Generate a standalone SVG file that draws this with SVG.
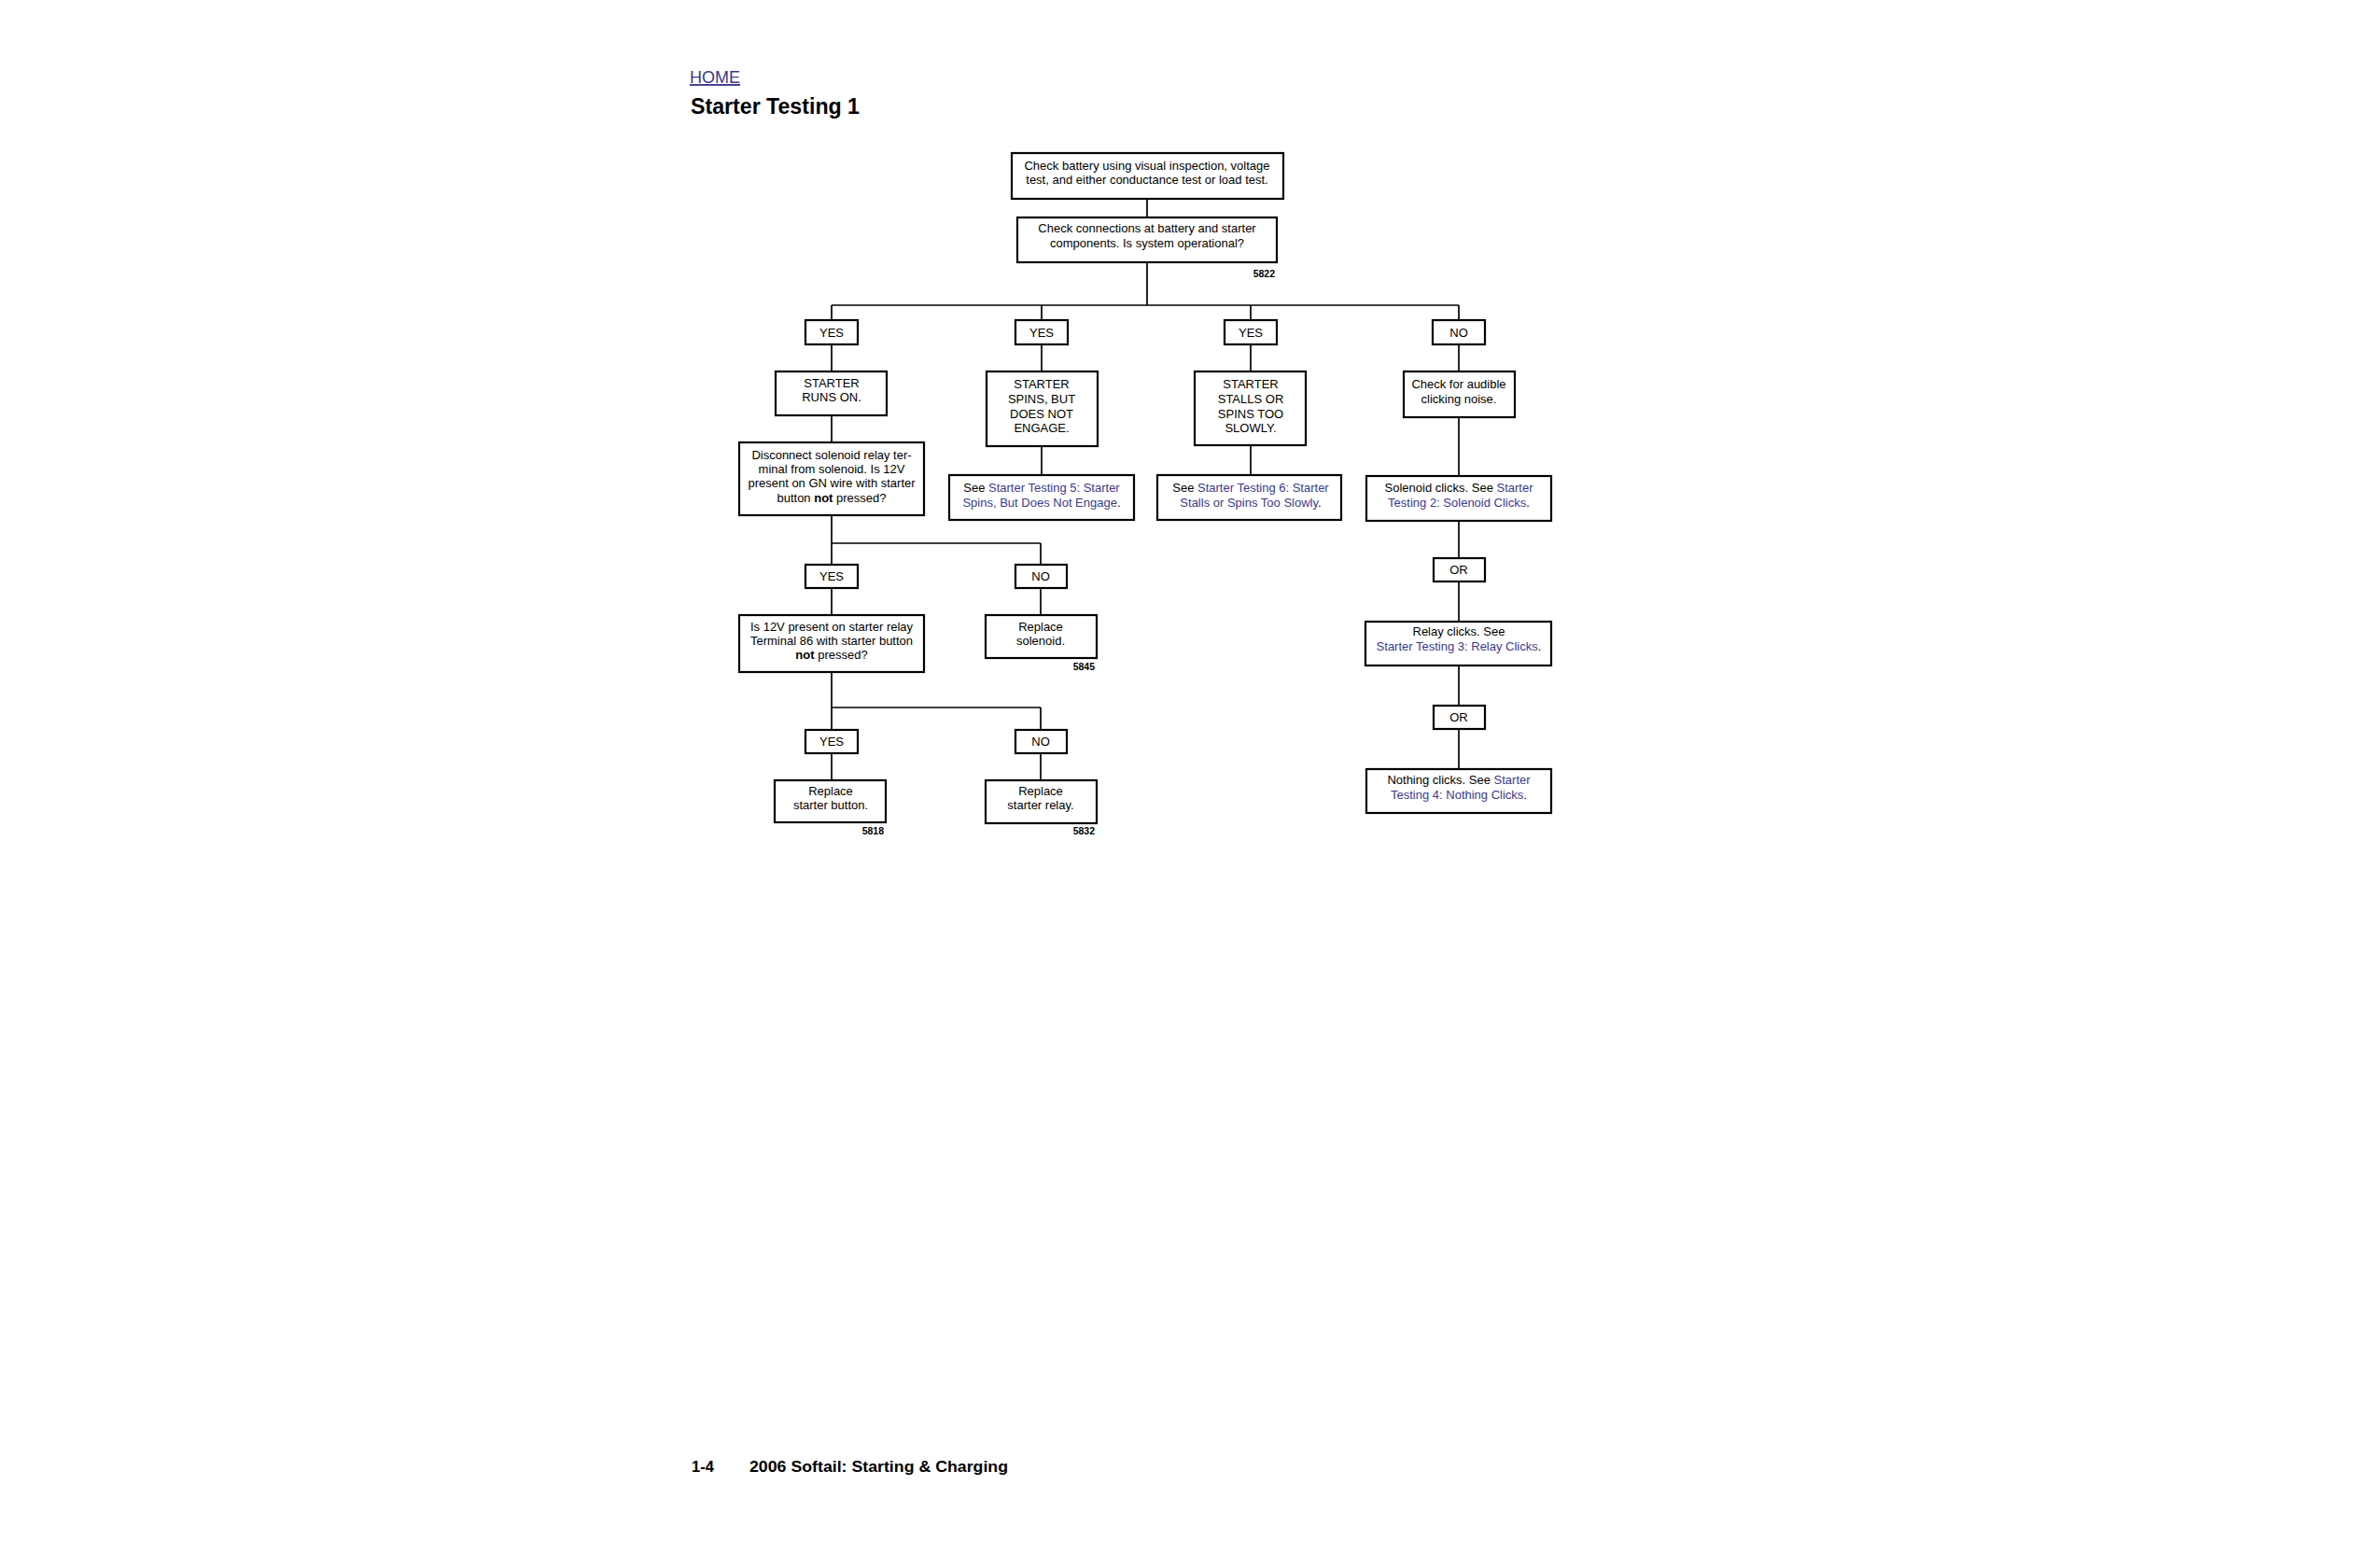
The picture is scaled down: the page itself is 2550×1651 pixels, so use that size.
<svg xmlns="http://www.w3.org/2000/svg" width="2550" height="1651" viewBox="0 0 2550 1651">
<style>
text{font-family:"Liberation Sans",Arial,sans-serif;fill:#000}
.b rect{fill:#fff;stroke:#000;stroke-width:2.2}
.t{font-size:13px;text-anchor:middle}
.l{fill:#3b3a8f}
.n{font-size:10.5px;font-weight:bold;text-anchor:end}
#c line{stroke:#000;stroke-width:1.7}
</style>
<rect width="2550" height="1651" fill="#fff"/>
<text x="739" y="89" font-size="19" class="l" text-decoration="underline" textLength="54" lengthAdjust="spacingAndGlyphs">HOME</text>
<text x="740" y="122" font-size="23" font-weight="bold" textLength="181" lengthAdjust="spacingAndGlyphs">Starter Testing 1</text>
<g id="c">
<line x1="1229" y1="213" x2="1229" y2="233"/>
<line x1="1229" y1="281" x2="1229" y2="327"/>
<line x1="891" y1="327" x2="1563" y2="327"/>
<line x1="891" y1="327" x2="891" y2="343"/><line x1="1116" y1="327" x2="1116" y2="343"/><line x1="1340" y1="327" x2="1340" y2="343"/><line x1="1563" y1="327" x2="1563" y2="343"/>
<line x1="891" y1="369" x2="891" y2="398"/><line x1="1116" y1="369" x2="1116" y2="398"/><line x1="1340" y1="369" x2="1340" y2="398"/><line x1="1563" y1="369" x2="1563" y2="398"/>
<line x1="891" y1="445" x2="891" y2="474"/><line x1="1116" y1="478" x2="1116" y2="509"/><line x1="1340" y1="477" x2="1340" y2="509"/><line x1="1563" y1="447" x2="1563" y2="510"/>
<line x1="1563" y1="558" x2="1563" y2="598"/><line x1="1563" y1="623" x2="1563" y2="666"/><line x1="1563" y1="713" x2="1563" y2="756"/><line x1="1563" y1="781" x2="1563" y2="824"/>
<line x1="891" y1="552" x2="891" y2="605"/><line x1="891" y1="582" x2="1115" y2="582"/><line x1="1115" y1="582" x2="1115" y2="605"/>
<line x1="891" y1="630" x2="891" y2="659"/><line x1="1115" y1="630" x2="1115" y2="659"/>
<line x1="891" y1="720" x2="891" y2="782"/><line x1="891" y1="758" x2="1115" y2="758"/><line x1="1115" y1="758" x2="1115" y2="782"/>
<line x1="891" y1="807" x2="891" y2="836"/><line x1="1115" y1="807" x2="1115" y2="836"/>
</g>
<g id="n1" class="b"><rect x="1084" y="164" width="291" height="49"/><text class="t" x="1229" y="182">Check battery using visual inspection, voltage</text><text class="t" x="1229" y="197">test, and either conductance test or load test.</text></g>
<g id="n2" class="b"><rect x="1090" y="233" width="278" height="48"/><text class="t" x="1229" y="249">Check connections at battery and starter</text><text class="t" x="1229" y="265">components. Is system operational?</text><text class="n" x="1366" y="297">5822</text></g>
<g id="y1" class="b"><rect x="863" y="343" width="56" height="26"/><text class="t" x="891" y="361">YES</text></g>
<g id="y2" class="b"><rect x="1088" y="343" width="56" height="26"/><text class="t" x="1116" y="361">YES</text></g>
<g id="y3" class="b"><rect x="1312" y="343" width="56" height="26"/><text class="t" x="1340" y="361">YES</text></g>
<g id="no1" class="b"><rect x="1535" y="343" width="56" height="26"/><text class="t" x="1563" y="361">NO</text></g>
<g id="runs" class="b"><rect x="831" y="398" width="119" height="47"/><text class="t" x="891" y="415">STARTER</text><text class="t" x="891" y="430">RUNS ON.</text></g>
<g id="spins" class="b"><rect x="1057" y="398" width="119" height="80"/><text class="t" x="1116" y="416">STARTER</text><text class="t" x="1116" y="432">SPINS, BUT</text><text class="t" x="1116" y="448">DOES NOT</text><text class="t" x="1116" y="463">ENGAGE.</text></g>
<g id="stalls" class="b"><rect x="1280" y="398" width="119" height="79"/><text class="t" x="1340" y="416">STARTER</text><text class="t" x="1340" y="432">STALLS OR</text><text class="t" x="1340" y="448">SPINS TOO</text><text class="t" x="1340" y="463">SLOWLY.</text></g>
<g id="aud" class="b"><rect x="1504" y="398" width="119" height="49"/><text class="t" x="1563" y="416">Check for audible</text><text class="t" x="1563" y="432">clicking noise.</text></g>
<g id="see5" class="b"><rect x="1017" y="509" width="198" height="48"/><text class="t" x="1116" y="527">See <tspan class="l">Starter Testing 5: Starter</tspan></text><text class="t" x="1116" y="543"><tspan class="l">Spins, But Does Not Engage</tspan>.</text></g>
<g id="see6" class="b"><rect x="1240" y="509" width="197" height="48"/><text class="t" x="1340" y="527">See <tspan class="l">Starter Testing 6: Starter</tspan></text><text class="t" x="1340" y="543"><tspan class="l">Stalls or Spins Too Slowly</tspan>.</text></g>
<g id="sol" class="b"><rect x="1464" y="510" width="198" height="48"/><text class="t" x="1563" y="527">Solenoid clicks. See <tspan class="l">Starter</tspan></text><text class="t" x="1563" y="543"><tspan class="l">Testing 2: Solenoid Clicks</tspan>.</text></g>
<g id="or1" class="b"><rect x="1536" y="598" width="55" height="25"/><text class="t" x="1563" y="615">OR</text></g>
<g id="relay" class="b"><rect x="1463" y="666" width="199" height="47"/><text class="t" x="1563" y="681">Relay clicks. See</text><text class="t" x="1563" y="697"><tspan class="l">Starter Testing 3: Relay Clicks</tspan>.</text></g>
<g id="or2" class="b"><rect x="1536" y="756" width="55" height="25"/><text class="t" x="1563" y="773">OR</text></g>
<g id="nothing" class="b"><rect x="1464" y="824" width="198" height="47"/><text class="t" x="1563" y="840">Nothing clicks. See <tspan class="l">Starter</tspan></text><text class="t" x="1563" y="856"><tspan class="l">Testing 4: Nothing Clicks</tspan>.</text></g>
<g id="disc" class="b"><rect x="792" y="474" width="198" height="78"/><text class="t" x="891" y="492">Disconnect solenoid relay ter-</text><text class="t" x="891" y="507">minal from solenoid. Is 12V</text><text class="t" x="891" y="522">present on GN wire with starter</text><text class="t" x="891" y="538">button <tspan font-weight="bold">not</tspan> pressed?</text></g>
<g id="y4" class="b"><rect x="863" y="605" width="56" height="25"/><text class="t" x="891" y="622">YES</text></g>
<g id="no2" class="b"><rect x="1088" y="605" width="55" height="25"/><text class="t" x="1115" y="622">NO</text></g>
<g id="v86" class="b"><rect x="792" y="659" width="198" height="61"/><text class="t" x="891" y="676">Is 12V present on starter relay</text><text class="t" x="891" y="691">Terminal 86 with starter button</text><text class="t" x="891" y="706"><tspan font-weight="bold">not</tspan> pressed?</text></g>
<g id="repsol" class="b"><rect x="1056" y="659" width="119" height="46"/><text class="t" x="1115" y="676">Replace</text><text class="t" x="1115" y="691">solenoid.</text><text class="n" x="1173" y="718">5845</text></g>
<g id="y5" class="b"><rect x="863" y="782" width="56" height="25"/><text class="t" x="891" y="799">YES</text></g>
<g id="no3" class="b"><rect x="1088" y="782" width="55" height="25"/><text class="t" x="1115" y="799">NO</text></g>
<g id="repbtn" class="b"><rect x="830" y="836" width="119" height="45"/><text class="t" x="890" y="852">Replace</text><text class="t" x="890" y="867">starter button.</text><text class="n" x="947" y="894">5818</text></g>
<g id="reprel" class="b"><rect x="1056" y="836" width="119" height="46"/><text class="t" x="1115" y="852">Replace</text><text class="t" x="1115" y="867">starter relay.</text><text class="n" x="1173" y="894">5832</text></g>
<text x="741" y="1577" font-size="16.5" font-weight="bold">1-4</text>
<text x="803" y="1577" font-size="16.5" font-weight="bold" textLength="277" lengthAdjust="spacingAndGlyphs">2006 Softail: Starting &amp; Charging</text>
</svg>
